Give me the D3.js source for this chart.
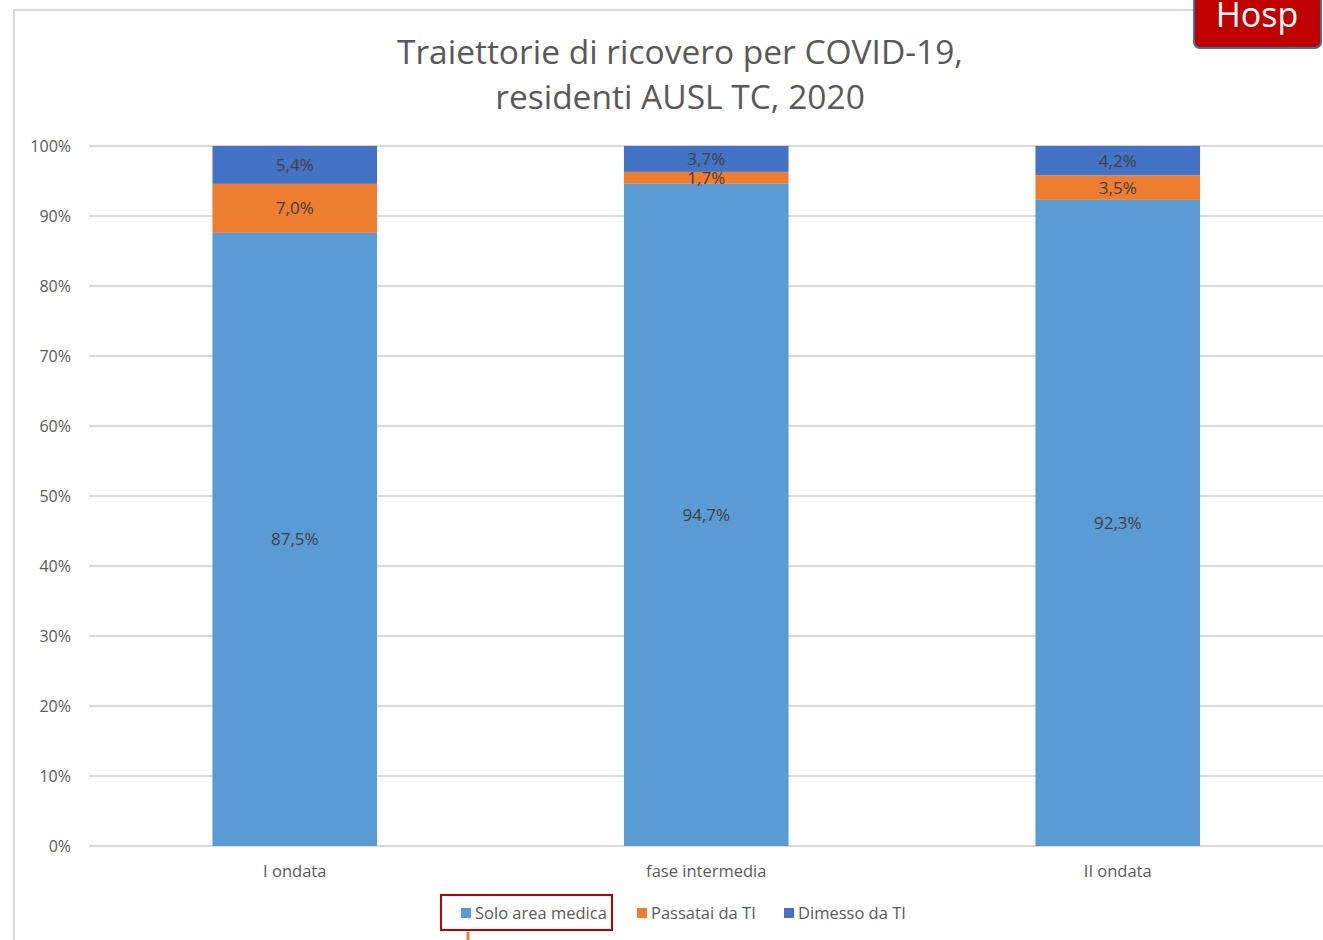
<!DOCTYPE html>
<html>
<head>
<meta charset="utf-8">
<script src="https://cdn.jsdelivr.net/npm/d3@7"></script>
<style>
  body { margin: 0; background: #fff; }
  text { font-family: "Open Sans", sans-serif; }
</style>
</head>
<body>
<div id="chart"></div>
<script>
var categories = ["I ondata", "fase intermedia", "II ondata"];
var seriesNames = ["Solo area medica", "Passatai da TI", "Dimesso da TI"];
var soloArea = [87.5, 94.7, 92.3];
var passatai = [7.0, 1.7, 3.5];
var dimesso = [5.4, 3.7, 4.2];
var colors = ["#5B9BD5", "#ED7D31", "#4472C4"];
var yTicks = [0, 10, 20, 30, 40, 50, 60, 70, 80, 90, 100];

var width = 1323, height = 940;
var margin = {top: 146, right: 0, bottom: 94, left: 89};

var svg = d3.select("#chart").append("svg")
    .attr("width", width)
    .attr("height", height);

// chart frame
svg.append("path")
    .attr("d", "M14,940 V10 H1195")
    .attr("fill", "none")
    .attr("stroke", "#d9d9d9")
    .attr("stroke-width", 2);

var rows = categories.map(function(c, i) {
    return {cat: c, "Solo area medica": soloArea[i], "Passatai da TI": passatai[i], "Dimesso da TI": dimesso[i]};
});

var stack = d3.stack().keys(seriesNames).offset(d3.stackOffsetExpand);
var layers = stack(rows);

var x = d3.scaleBand()
    .domain(categories)
    .range([margin.left, margin.left + 3 * 411.5])
    .paddingInner(0.6)
    .paddingOuter(0.3);

var y = d3.scaleLinear()
    .domain([0, 1])
    .range([height - margin.bottom, margin.top]);

// gridlines
svg.append("g")
    .selectAll("line")
    .data(yTicks)
    .enter().append("line")
    .attr("x1", margin.left)
    .attr("x2", width)
    .attr("y1", function(d) { return y(d / 100); })
    .attr("y2", function(d) { return y(d / 100); })
    .attr("stroke", "#d9d9d9")
    .attr("stroke-width", 2);

svg.append("g")
    .selectAll("text")
    .data(yTicks)
    .enter().append("text")
    .attr("x", 71)
    .attr("y", function(d) { return y(d / 100) + 6; })
    .attr("text-anchor", "end")
    .attr("font-size", 16)
    .attr("fill", "#595959")
    .text(function(d) { return d + "%"; });

// bars
var groups = svg.append("g").selectAll("g")
    .data(layers)
    .enter().append("g")
    .attr("fill", function(d, i) { return colors[i]; });

groups.selectAll("rect")
    .data(function(d) { return d; })
    .enter().append("rect")
    .attr("x", function(d) { return x(d.data.cat); })
    .attr("width", x.bandwidth())
    .attr("y", function(d) { return y(d[1]); })
    .attr("height", function(d) { return y(d[0]) - y(d[1]); });

// data labels
layers.forEach(function(layer) {
    svg.append("g").selectAll("text")
        .data(layer)
        .enter().append("text")
        .attr("x", function(d) { return x(d.data.cat) + x.bandwidth() / 2; })
        .attr("y", function(d) { return (y(d[0]) + y(d[1])) / 2 + 6; })
        .attr("text-anchor", "middle")
        .attr("font-size", 17)
        .attr("fill", "#404040")
        .text(function(d) { return d3.format(".1f")(d.data[layer.key]).replace(".", ",") + "%"; });
});

// x labels
svg.append("g").selectAll("text")
    .data(categories)
    .enter().append("text")
    .attr("x", function(d) { return x(d) + x.bandwidth() / 2; })
    .attr("y", 877)
    .attr("text-anchor", "middle")
    .attr("font-size", 16.5)
    .attr("fill", "#595959")
    .text(function(d) { return d; });

// title
var title = svg.append("text")
    .attr("x", 680)
    .attr("text-anchor", "middle")
    .attr("font-size", 33.5)
    .attr("fill", "#595959");
title.append("tspan").attr("x", 680).attr("y", 64).text("Traiettorie di ricovero per COVID-19,");
title.append("tspan").attr("x", 680).attr("y", 109).text("residenti AUSL TC, 2020");

// legend
var legendX = [461, 637, 784];
var legend = svg.append("g").selectAll("g")
    .data(seriesNames)
    .enter().append("g")
    .attr("transform", function(d, i) { return "translate(" + legendX[i] + ",908)"; });
legend.append("rect")
    .attr("width", 10)
    .attr("height", 10)
    .attr("fill", function(d, i) { return colors[i]; });
legend.append("text")
    .attr("x", 14)
    .attr("y", 11)
    .attr("font-size", 16.5)
    .attr("fill", "#595959")
    .text(function(d) { return d; });

// highlight box round first legend entry
svg.append("rect")
    .attr("x", 441)
    .attr("y", 895)
    .attr("width", 171)
    .attr("height", 35)
    .attr("fill", "none")
    .attr("stroke", "#C00000")
    .attr("stroke-width", 2);
svg.append("line")
    .attr("x1", 468).attr("x2", 468)
    .attr("y1", 932).attr("y2", 940)
    .attr("stroke", "#ED7D31")
    .attr("stroke-width", 3);

// "Hosp" tag
svg.append("rect")
    .attr("x", 1194)
    .attr("y", -20)
    .attr("width", 127)
    .attr("height", 68)
    .attr("rx", 6)
    .attr("fill", "#C00000")
    .attr("stroke", "#41719C")
    .attr("stroke-width", 2);
svg.append("text")
    .attr("x", 1257)
    .attr("y", 27)
    .attr("text-anchor", "middle")
    .attr("font-size", 34)
    .attr("fill", "#fff")
    .text("Hosp");
</script>
</body>
</html>
